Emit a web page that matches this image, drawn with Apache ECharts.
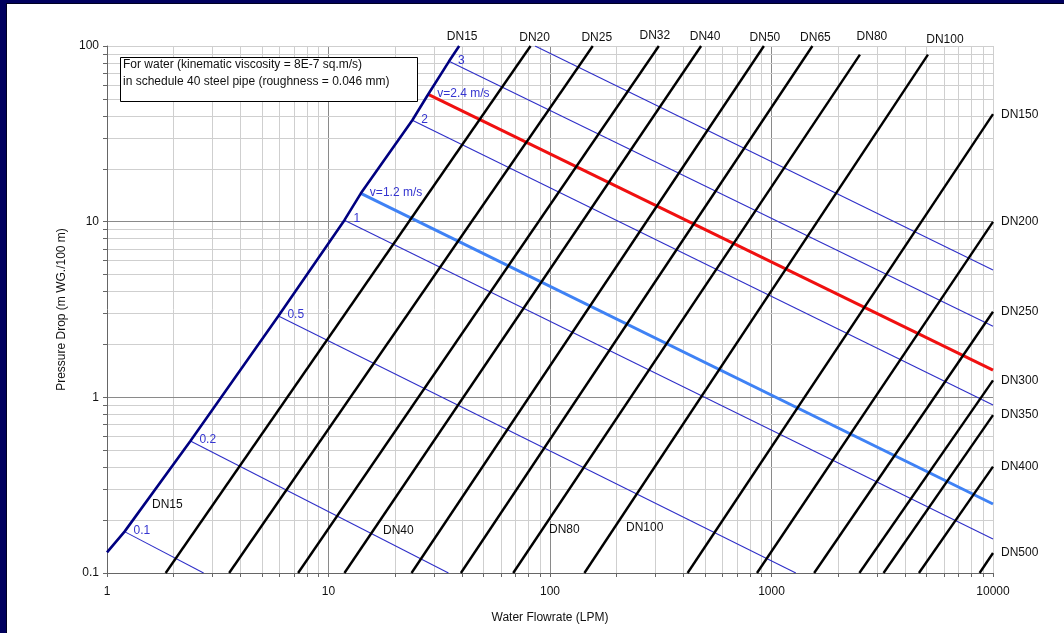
<!DOCTYPE html>
<html>
<head>
<meta charset="utf-8">
<script src="https://cdn.jsdelivr.net/npm/echarts@6.0.0/dist/echarts.min.js"></script>
<style>
html,body{margin:0;padding:0;background:#ffffff;overflow:hidden;}
#chart{width:1064px;height:633px;}
</style>
</head>
<body>
<div id="chart"></div>
<script>
// ---------------- data ----------------
// x: water flowrate (LPM), y: pressure drop (m WG./100 m)
const xTickLabels = [1, 10, 100, 1000, 10000];
const yTickLabels = [0.1, 1, 10, 100];

// DN15 (dark navy boundary line)
const dn15Line = [[1, 0.131], [1.20, 0.172], [2.38, 0.564], [5.94, 2.90], [11.8, 10.2], [14.0, 14.5], [23.9, 37.8], [28.2, 53.1], [35.0, 81.8], [38.9, 100]];

// other pipe sizes (black lines): start point and end point
const pipeNames = ['DN20', 'DN25', 'DN32', 'DN40', 'DN50', 'DN65', 'DN80', 'DN100', 'DN150', 'DN200', 'DN250', 'DN300', 'DN350', 'DN400', 'DN500'];
const pipeStart = [[1.84, 0.1], [3.56, 0.1], [7.29, 0.1], [11.8, 0.1], [23.7, 0.1], [39.6, 0.1], [68.2, 0.1], [143, 0.1], [418, 0.1], [860, 0.1], [1558, 0.1], [2493, 0.1], [3205, 0.1], [4630, 0.1], [8700, 0.1]];
const pipeEnd = [[81.7, 100], [156, 100], [310, 100], [481, 100], [924, 100], [1530, 100], [2507, 89.4], [5085, 89.4], [10000, 40.9], [10000, 9.97], [10000, 3.07], [10000, 1.25], [10000, 0.792], [10000, 0.403], [10000, 0.130]];

// constant velocity lines (m/s)
const velLabels = ['0.1', '0.2', '0.5', '1', 'v=1.2 m/s', '2', 'v=2.4 m/s', '3', ''];
const velStart = [[1.20, 0.172], [2.38, 0.564], [5.94, 2.90], [11.8, 10.2], [14.0, 14.5], [23.9, 37.8], [28.2, 53.1], [35.0, 81.8], [85.6, 100]];
const velEnd = [[2.73, 0.1], [34.8, 0.1], [1288, 0.1], [10000, 0.156], [10000, 0.247], [10000, 0.903], [10000, 1.43], [10000, 2.54], [10000, 5.30]];

const noteLines = ['For water (kinematic viscosity = 8E-7 sq.m/s)', 'in schedule 40 steel pipe (roughness = 0.046 mm)'];

// ---------------- styling ----------------
const FONT = '"Liberation Sans", Arial, sans-serif';
const NAVY = '#000080';
const THIN_BLUE = '#2f2fc8';
const LABEL_BLUE = '#3535d0';

function velStyle(label) {
  if (label === 'v=1.2 m/s') return { color: '#3f82f5', width: 3 };
  if (label === 'v=2.4 m/s') return { color: '#f01010', width: 3 };
  return { color: THIN_BLUE, width: 1.1 };
}

// grid lines positions (decade & sub-decade)
const vLines = [], hLines = [];
for (let d = 1; d <= 1000; d *= 10) for (let k = 1; k <= 9; k++) {
  const v = d * k;
  if (v > 1) vLines.push({ xAxis: v, major: k === 1 });
}
vLines.push({ xAxis: 10000, major: false });
for (let d = 0.1; d <= 10.0001; d *= 10) for (let k = 1; k <= 9; k++) {
  const v = +(d * k).toPrecision(6);
  if (v > 0.1) hLines.push({ yAxis: v, major: k === 1 });
}
hLines.push({ yAxis: 100, major: false });
const minorTickX = [], minorTickY = [];
for (let d = 1; d <= 1000; d *= 10) for (let k = 1; k <= 9; k++) minorTickX.push(d * k);
minorTickX.push(10000);
for (let d = 0.1; d <= 10.0001; d *= 10) for (let k = 1; k <= 9; k++) minorTickY.push(+(d * k).toPrecision(6));
minorTickY.push(100);

const gridMarks = [];
vLines.forEach(l => gridMarks.push({ xAxis: l.xAxis, lineStyle: { color: l.major ? '#8a8a8a' : '#cfcfcf', width: 1, type: 'solid' } }));
hLines.forEach(l => gridMarks.push({ yAxis: l.yAxis, lineStyle: { color: l.major ? '#8a8a8a' : '#cfcfcf', width: 1, type: 'solid' } }));

const series = [];
series.push({
  type: 'line', data: [], z: 1, silent: true, showSymbol: false,
  markLine: { silent: true, z: 0, symbol: ['none', 'none'], label: { show: false }, animation: false, data: gridMarks }
});
velStart.forEach((s, i) => {
  const st = velStyle(velLabels[i]);
  series.push({
    type: 'line', data: [s, velEnd[i]], z: st.width > 2 ? 4 : 3, showSymbol: false, symbol: 'none', silent: true,
    lineStyle: { color: st.color, width: st.width }
  });
});
pipeNames.forEach((n, i) => {
  series.push({
    type: 'line', data: [pipeStart[i], pipeEnd[i]], z: 5, showSymbol: false, symbol: 'none', silent: true,
    lineStyle: { color: '#000000', width: 2.4 }
  });
});
series.push({
  type: 'line', data: dn15Line, z: 6, showSymbol: false, symbol: 'none', silent: true,
  lineStyle: { color: NAVY, width: 2.6 }
});

const fmt = v => String(+(+v).toPrecision(6));

const chart = echarts.init(document.getElementById('chart'), null, { renderer: 'canvas' });
chart.setOption({
  animation: false,
  backgroundColor: '#ffffff',
  textStyle: { fontFamily: FONT },
  grid: { left: 107, right: 71, top: 46, bottom: 60, containLabel: false },
  xAxis: {
    type: 'log', logBase: 10, min: 1, max: 10000,
    name: 'Water Flowrate (LPM)', nameLocation: 'middle', nameGap: 39,
    nameTextStyle: { fontFamily: FONT, fontSize: 12, color: '#111' },
    axisLine: { show: true, lineStyle: { color: '#666', width: 1 } },
    axisTick: { show: true, length: 4, lineStyle: { color: '#666' }, customValues: minorTickX },
    axisLabel: { show: true, margin: 13, fontFamily: FONT, fontSize: 12, color: '#111', formatter: fmt, customValues: xTickLabels },
    splitLine: { show: false }, minorTick: { show: false }, minorSplitLine: { show: false }
  },
  yAxis: {
    type: 'log', logBase: 10, min: 0.1, max: 100,
    name: 'Pressure Drop (m WG./100 m)', nameLocation: 'middle', nameGap: 38, nameRotate: 90,
    nameTextStyle: { fontFamily: FONT, fontSize: 12, color: '#111' },
    axisLine: { show: true, lineStyle: { color: '#666', width: 1 } },
    axisTick: { show: true, length: 4, lineStyle: { color: '#666' }, customValues: minorTickY },
    axisLabel: { show: true, margin: 8, fontFamily: FONT, fontSize: 12, color: '#111', formatter: fmt, customValues: yTickLabels },
    splitLine: { show: false }, minorTick: { show: false }, minorSplitLine: { show: false }
  },
  series: series
});

// ---------------- annotations ----------------
const g = [];
// frame bands (left & top)
g.push({ type: 'rect', left: 0, top: 0, shape: { width: 7, height: 633 }, style: { fill: '#00005e' }, z: 100 });
g.push({ type: 'rect', left: 0, top: 0, shape: { width: 1064, height: 4 }, style: { fill: '#00005e' }, z: 100 });
g.push({ type: 'rect', left: 6, top: 3, shape: { width: 1, height: 630 }, style: { fill: '#000022' }, z: 101 });
g.push({ type: 'rect', left: 6, top: 3, shape: { width: 1058, height: 1 }, style: { fill: '#000022' }, z: 101 });

// note box
g.push({ type: 'rect', left: 120, top: 57, shape: { width: 297, height: 44 }, style: { fill: '#ffffff', stroke: '#000', lineWidth: 1 }, z: 50 });
noteLines.forEach((t, i) => g.push({
  type: 'text', left: 123, top: 59 + i * 17, style: { text: t, font: '12px ' + FONT, fill: '#111' }, z: 51
}));

function txt(t, x, y, align, color) {
  return { type: 'text', x: x, y: y, style: { text: t, font: '12px ' + FONT, fill: color || '#111', align: align || 'left', verticalAlign: 'middle' }, z: 60 };
}
// pipe labels at top / right, anchored on line end points
const topLabelOffset = { 'DN20': [4, -8], 'DN25': [4, -8], 'DN32': [-4, -10], 'DN40': [4, -9], 'DN50': [1, -8], 'DN65': [3, -8], 'DN80': [12, -18], 'DN100': [17, -15] };
pipeNames.forEach((n, i) => {
  const p = chart.convertToPixel({ gridIndex: 0 }, pipeEnd[i]);
  if (topLabelOffset[n]) g.push(txt(n, p[0] + topLabelOffset[n][0], p[1] + topLabelOffset[n][1], 'center'));
  else g.push(txt(n, p[0] + 8, p[1], 'left'));
});
{
  const p = chart.convertToPixel({ gridIndex: 0 }, dn15Line[dn15Line.length - 1]);
  g.push(txt('DN15', p[0] + 3, p[1] - 9, 'center'));
}
// inner pipe labels
g.push(txt('DN15', 152, 505, 'left'));
g.push(txt('DN40', 383, 531, 'left'));
g.push(txt('DN80', 549, 530, 'left'));
g.push(txt('DN100', 626, 528, 'left'));
// velocity labels
velLabels.forEach((t, i) => {
  if (!t) return;
  const p = chart.convertToPixel({ gridIndex: 0 }, velStart[i]);
  g.push(txt(t, p[0] + 9, p[1] - 1, 'left', LABEL_BLUE));
});

chart.setOption({ graphic: g });
</script>
</body>
</html>
